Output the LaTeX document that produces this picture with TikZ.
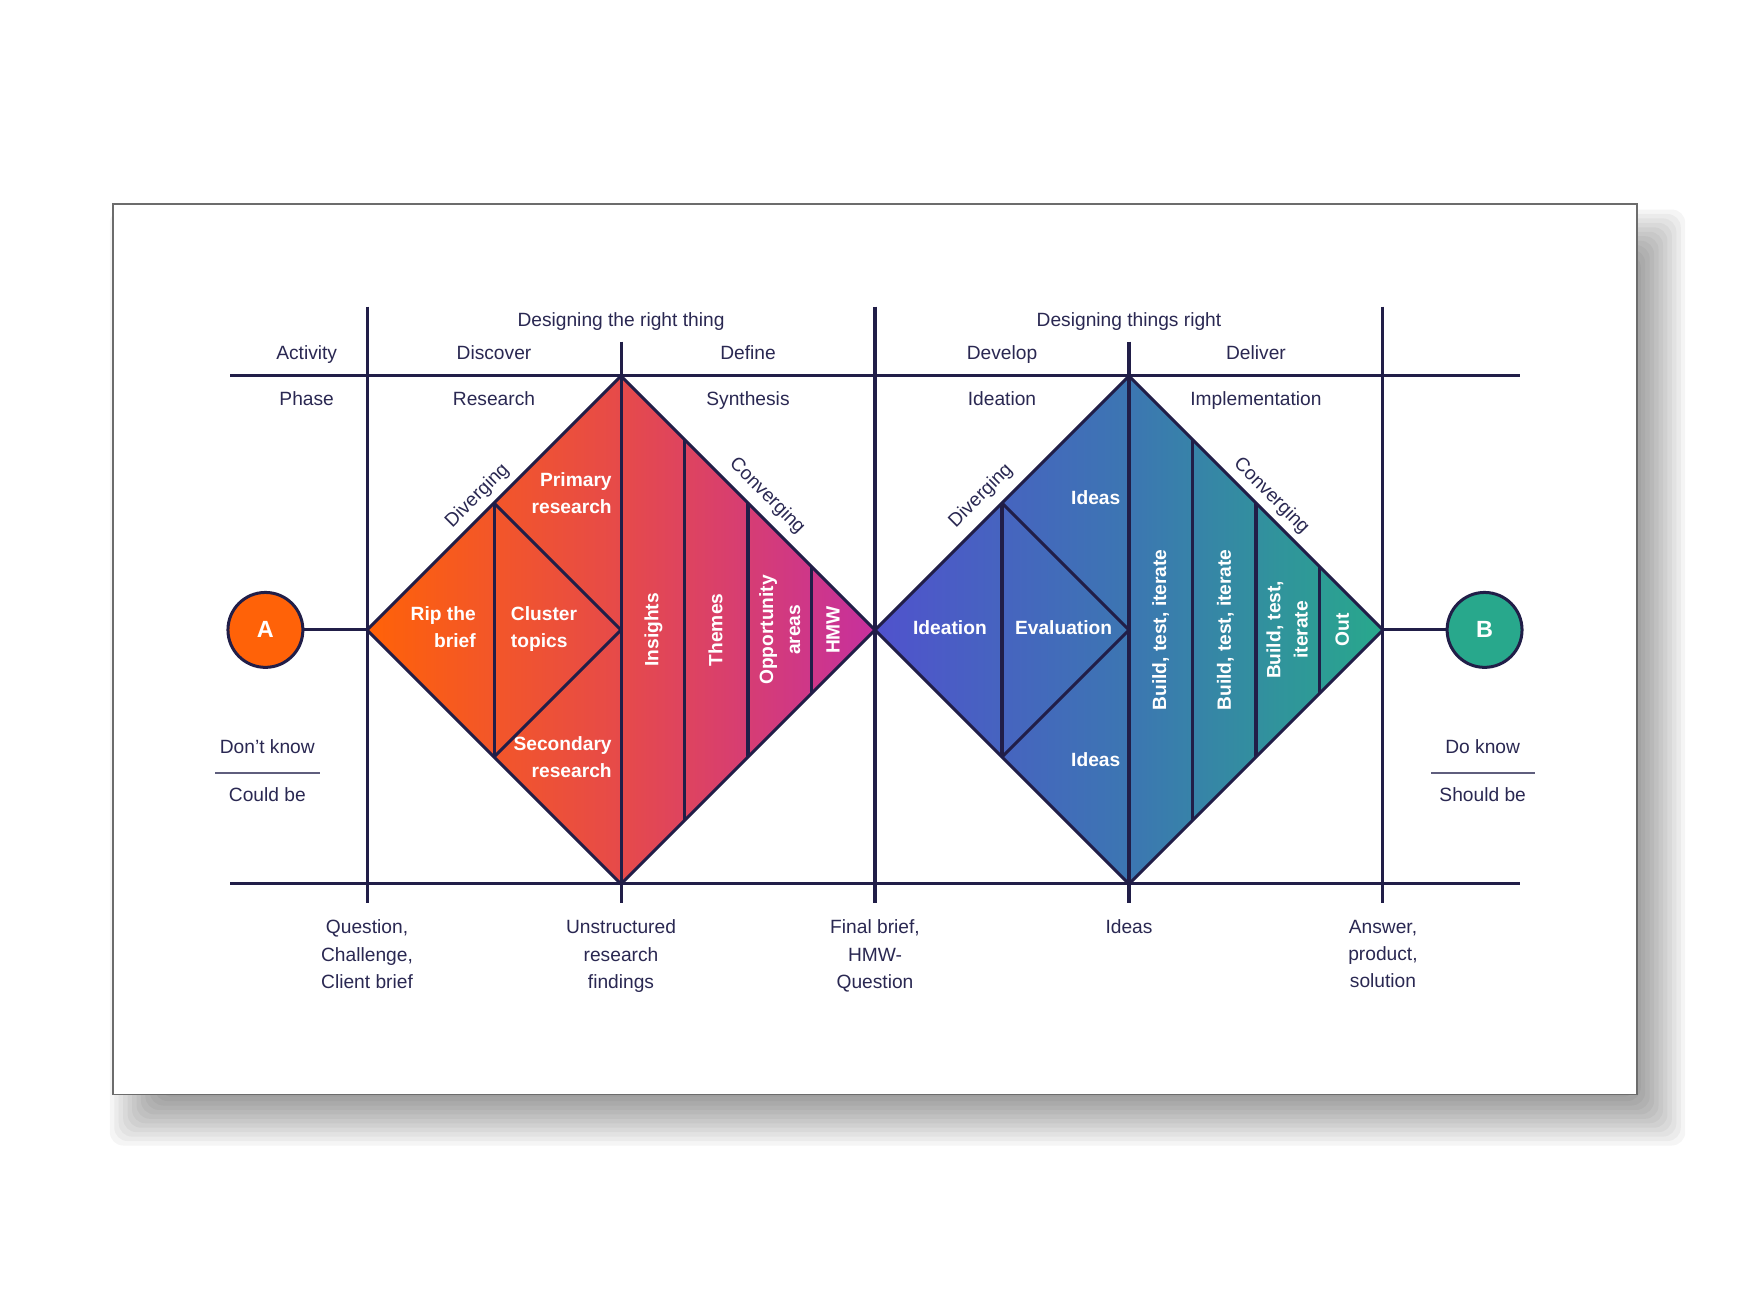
\documentclass[tikz,border=0pt]{standalone}
\usepackage{fontspec}
\setmainfont{Liberation Sans}
\usepackage{tikz}
\usetikzlibrary{positioning}
\usepackage{xcolor}
\definecolor{ddnavy}{RGB}{33,30,72}
\definecolor{ddtext}{RGB}{42,40,82}
\definecolor{ddorange}{RGB}{255,98,8}
\definecolor{ddred}{RGB}{230,74,74}
\definecolor{ddmagenta}{RGB}{198,48,158}
\definecolor{ddindigo}{RGB}{80,82,205}
\definecolor{ddblue}{RGB}{60,118,178}
\definecolor{ddteal}{RGB}{40,168,140}
\tikzstyle{axisline} = [line width=1.35pt, color=ddnavy]
\tikzstyle{diamondline} = [line width=1.35pt, draw=ddnavy, line join=round]
\tikzstyle{lbl} = [text=ddtext, font=\fontsize{8.6}{12.2}\selectfont, inner sep=0pt, align=center]
\tikzstyle{inlbl} = [text=white, font=\bfseries\fontsize{8.6}{12.2}\selectfont, inner sep=0pt]
\tikzstyle{endpoint} = [circle, minimum size=1.18cm, inner sep=0pt, draw=ddnavy, line width=1.35pt, text=white, font=\bfseries\fontsize{10.5}{12}\selectfont]

\begin{document}
\begin{tikzpicture}
\useasboundingbox (-5.78,-10.535) rectangle (21.78,9.92);

% Card with a soft shadow
\foreach \s in {0,0.07,...,0.78}
  \fill[black, opacity=0.04, rounded corners=6pt] (-4.05+\s,-8.12+\s) rectangle (20.76-\s,6.62-\s);
\draw[fill=white, draw=gray!85!black, line width=0.7pt] (-4,-7.32) rectangle (20,6.71);

% Diamond corners
\coordinate (d1w) at (0,0);
\coordinate (d1n) at (4,4);
\coordinate (d1e) at (8,0);
\coordinate (d1s) at (4,-4);
\coordinate (d2w) at (8,0);
\coordinate (d2n) at (12,4);
\coordinate (d2e) at (16,0);
\coordinate (d2s) at (12,-4);

% Gradient fills
\shade[left color=ddorange, right color=ddmagenta, middle color=ddred] (d1w) -- (d1n) -- (d1e) -- (d1s) -- cycle;
\shade[left color=ddindigo, right color=ddteal, middle color=ddblue] (d2w) -- (d2n) -- (d2e) -- (d2s) -- cycle;

% Table lines
\draw[axisline] (-2.15,4) -- (18.15,4);
\draw[axisline] (-2.15,-4) -- (18.15,-4);
\foreach \x in {0,8,16}
  \draw[axisline] (\x,5.09) -- (\x,-4.3);
\foreach \x in {4,12}
  \draw[axisline] (\x,4.54) -- (\x,-4.3);

% Discover / Define
\draw[diamondline] (2,2) -- (2,-2);
\draw[diamondline] (2,2) -- (4,0) -- (2,-2);
\foreach \x/\h in {5/3,6/2,7/1}
  \draw[diamondline] (\x,\h) -- (\x,-\h);
\draw[diamondline] (d1w) -- (d1n) -- (d1e) -- (d1s) -- cycle;

% Develop / Deliver
\draw[diamondline] (10,2) -- (10,-2);
\draw[diamondline] (10,2) -- (12,0) -- (10,-2);
\foreach \x/\h in {13/3,14/2,15/1}
  \draw[diamondline] (\x,\h) -- (\x,-\h);
\draw[diamondline] (d2w) -- (d2n) -- (d2e) -- (d2s) -- cycle;

% Start and end points
\node[endpoint, fill=ddorange] (ptA) at (-1.6,0) {A};
\node[endpoint, fill=ddteal] (ptB) at (17.6,0) {B};
\draw[axisline] (ptA) -- (d1w);
\draw[axisline] (d2e) -- (ptB);

% Header
\node[lbl, anchor=base] (titleleft) at (4,4.78) {Designing the right thing};
\node[lbl, anchor=base] (titleright) at (12,4.78) {Designing things right};
\node[lbl, anchor=base] (activity) at (-0.95,4.26) {Activity};
\node[lbl, anchor=base] (discover) at (2,4.26) {Discover};
\node[lbl, anchor=base] (define) at (6,4.26) {Define};
\node[lbl, anchor=base] (develop) at (10,4.26) {Develop};
\node[lbl, anchor=base] (deliver) at (14,4.26) {Deliver};
\node[lbl, anchor=base] (phase) at (-0.95,3.54) {Phase};
\node[lbl, anchor=base] (research) at (2,3.54) {Research};
\node[lbl, anchor=base] (synthesis) at (6,3.54) {Synthesis};
\node[lbl, anchor=base] (ideation) at (10,3.54) {Ideation};
\node[lbl, anchor=base] (implementation) at (14,3.54) {Implementation};

% Know / be
\node[lbl, anchor=base] (dontknow) at (-1.57,-1.95) {Don't know};
\node[lbl, anchor=base] (couldbe) at (-1.57,-2.70) {Could be};
\draw[line width=0.9pt, ddtext!75] (-2.39,-2.26) -- (-0.74,-2.26);
\node[lbl, anchor=base] (doknow) at (17.57,-1.95) {Do know};
\node[lbl, anchor=base] (shouldbe) at (17.57,-2.70) {Should be};
\draw[line width=0.9pt, ddtext!75] (16.76,-2.26) -- (18.4,-2.26);

% Outcomes
\node[lbl, anchor=north] (outquestion) at (0,-4.56) {Question,\\Challenge,\\Client brief};
\node[lbl, anchor=north] (outfindings) at (4,-4.56) {Unstructured\\research\\findings};
\node[lbl, anchor=north] (outbrief) at (8,-4.56) {Final brief,\\HMW-\\Question};
\node[lbl, anchor=north] (outideas) at (12,-4.56) {Ideas};
\node[lbl, anchor=north] (outanswer) at (16,-4.56) {Answer,\\product,\\solution};

% Edge labels
\node[lbl, rotate=45] (div1) at (1.74,2.11) {Diverging};
\node[lbl, rotate=-45] (conv1) at (6.3,2.11) {Converging};
\node[lbl, rotate=45] (div2) at (9.67,2.11) {Diverging};
\node[lbl, rotate=-45] (conv2) at (14.24,2.11) {Converging};

% Inside first diamond
\node[inlbl, anchor=east, align=right] (primary) at (3.86,2.15) {Primary\\research};
\node[inlbl, anchor=east, align=right] (secondary) at (3.86,-2.0) {Secondary\\research};
\node[inlbl, anchor=east, align=right] (ripbrief) at (1.72,0.04) {Rip the\\brief};
\node[inlbl, anchor=west, align=left] (cluster) at (2.26,0.01) {Cluster\\topics};
\node[inlbl, rotate=90] (insights) at (4.51,0) {Insights};
\node[inlbl, rotate=90] (themes) at (5.49,0) {Themes};
\node[inlbl, rotate=90, align=center] (opportunity) at (6.5,0) {Opportunity\\areas};
\node[inlbl, rotate=90] (hmw) at (7.34,0) {HMW};

% Inside second diamond
\node[inlbl] (ideationin) at (9.18,0.03) {Ideation};
\node[inlbl] (evaluation) at (10.97,0.03) {Evaluation};
\node[inlbl, anchor=east] (ideastop) at (11.87,2.09) {Ideas};
\node[inlbl, anchor=east] (ideasbottom) at (11.87,-2.05) {Ideas};
\node[inlbl, rotate=90] (build1) at (12.5,0) {Build, test, iterate};
\node[inlbl, rotate=90] (build2) at (13.52,0) {Build, test, iterate};
\node[inlbl, rotate=90, align=center] (build3) at (14.49,0) {Build, test,\\iterate};
\node[inlbl, rotate=90] (out) at (15.36,0) {Out};
\end{tikzpicture}
\end{document}
